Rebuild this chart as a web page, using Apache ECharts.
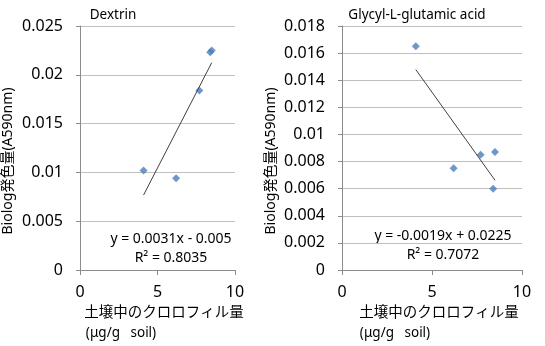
<!DOCTYPE html>
<html>
<head>
<meta charset="utf-8">
<script src="https://cdn.jsdelivr.net/npm/echarts@6/dist/echarts.min.js"></script>
<style>
  html, body { margin: 0; padding: 0; background: #fff; }
  #chart { width: 545px; height: 346px; }
</style>
</head>
<body>
<div id="chart"></div>
<script>
// 土壌中のクロロフィル量 (μg/g soil)
const chlorophyll = [4.1, 6.2, 7.7, 8.4, 8.5]
// Biolog発色量 (A590nm)
const dextrin = [0.0102, 0.0094, 0.0184, 0.0223, 0.0225]
const glycylGlutamic = [0.0165, 0.0075, 0.0085, 0.0060, 0.0087]

const titles = ['Dextrin', 'Glycyl-L-glutamic acid']
const equations = [
  ['y = 0.0031x - 0.005', 'R² = 0.8035'],
  ['y = -0.0019x + 0.0225', 'R² = 0.7072']
]
const yMax = [0.025, 0.018]
const yStep = [0.005, 0.002]

const FONT = '"Noto Sans", "Noto Sans CJK JP", sans-serif'

// 最小二乗で近似直線
function trend(xs, ys) {
  const n = xs.length
  const mx = xs.reduce((a, b) => a + b, 0) / n
  const my = ys.reduce((a, b) => a + b, 0) / n
  let sxy = 0, sxx = 0
  for (let i = 0; i < n; i++) {
    sxy += (xs[i] - mx) * (ys[i] - my)
    sxx += (xs[i] - mx) * (xs[i] - mx)
  }
  const k = sxy / sxx
  const b = my - k * mx
  const x0 = Math.min(...xs), x1 = Math.max(...xs)
  return [[x0, k * x0 + b], [x1, k * x1 + b]]
}

const grids = [
  { left: 80, top: 26, width: 155, height: 244 },
  { left: 342, top: 26, width: 180, height: 244 }
]

function xAxis(i) {
  return {
    gridIndex: i, type: 'value', min: 0, max: 10, interval: 5,
    axisLine: { lineStyle: { color: '#8c8c8c' } },
    axisTick: { show: true, length: 5, lineStyle: { color: '#8c8c8c' } },
    axisLabel: { color: '#000', fontSize: 16, fontFamily: FONT, margin: 14 },
    splitLine: { show: false }
  }
}

function yAxis(i) {
  return {
    gridIndex: i, type: 'value', min: 0, max: yMax[i], interval: yStep[i],
    axisLine: { show: true, lineStyle: { color: '#8c8c8c' } },
    axisTick: { show: true, length: 4, lineStyle: { color: '#8c8c8c' } },
    axisLabel: {
      color: '#000', fontSize: 16, fontFamily: FONT, margin: 17,
      formatter: v => String(Number(v.toFixed(4)))
    },
    splitLine: { lineStyle: { color: '#bfbfbf' } }
  }
}

const series = []
;[dextrin, glycylGlutamic].forEach((ys, i) => {
  series.push({
    type: 'scatter', xAxisIndex: i, yAxisIndex: i,
    symbol: 'diamond', symbolSize: 8,
    itemStyle: { color: '#4a7ebb' },
    data: chlorophyll.map((x, j) => [x, ys[j]])
  })
  series.push({
    type: 'line', xAxisIndex: i, yAxisIndex: i,
    showSymbol: false, silent: true,
    lineStyle: { color: '#404040', width: 1 },
    data: trend(chlorophyll, ys)
  })
})

function txt(x, y, s, size, extra) {
  return Object.assign({
    type: 'text', x: x, y: y,
    style: { text: s, fill: '#000', font: size + 'px ' + FONT, align: 'center', verticalAlign: 'middle' }
  }, extra || {})
}

const graphic = [
  txt(113, 15, titles[0], 13.5),
  txt(417, 15, titles[1], 13.5),
  txt(171, 239, equations[0][0], 14),
  txt(171, 258, equations[0][1], 14),
  txt(443, 236, equations[1][0], 14),
  txt(443, 255, equations[1][1], 14),
  txt(164, 313, '土壌中のクロロフィル量', 14.5),
  txt(439, 313, '土壌中のクロロフィル量', 14.5),
  txt(121, 333, '(μg/g   soil)', 13.5),
  txt(395, 333, '(μg/g   soil)', 13.5),
  txt(8, 161, 'Biolog発色量(A590nm)', 14, { rotation: Math.PI / 2 }),
  txt(271, 161, 'Biolog発色量(A590nm)', 14, { rotation: Math.PI / 2 })
]

const chart = echarts.init(document.getElementById('chart'))
chart.setOption({
  animation: false,
  backgroundColor: '#fff',
  grid: grids,
  xAxis: [xAxis(0), xAxis(1)],
  yAxis: [yAxis(0), yAxis(1)],
  series: series,
  graphic: graphic
})
</script>
</body>
</html>
